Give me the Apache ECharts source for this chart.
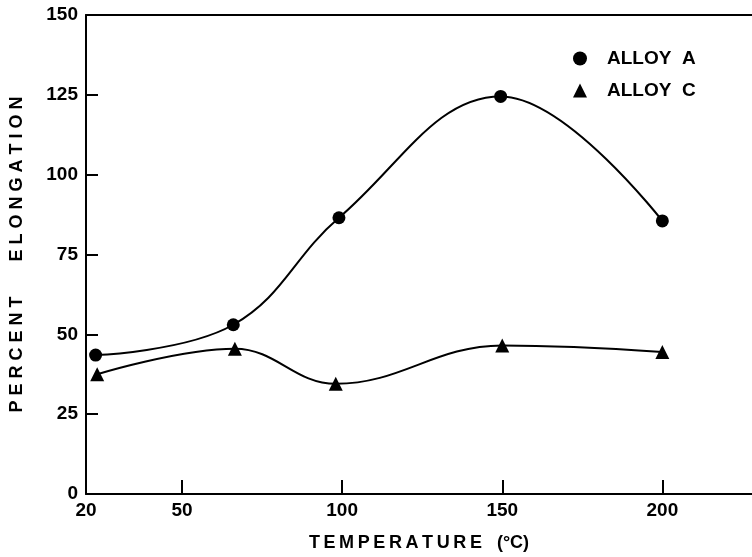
<!DOCTYPE html>
<html>
<head>
<meta charset="utf-8">
<title>Percent elongation vs temperature</title>
<script src="https://cdn.jsdelivr.net/npm/echarts@6/dist/echarts.min.js"></script>
<style>
	html,body{margin:0;padding:0;background:#fff;}
	#elongChart{width:752px;height:557px;}
</style>
</head>
<body>
<div id="elongChart"></div>
<script>
/*数据*/
var alloyATemp = [23, 66, 99, 149.5, 200];
var alloyAElong = [43.5, 53, 86.5, 124.5, 85.5];
var alloyCTemp = [23.5, 66.5, 98, 150, 200];
var alloyCElong = [37.5, 45.5, 34.5, 46.5, 44.5];
var xLabels = [20, 50, 100, 150, 200];
var xTicks = [50, 100, 150, 200];
var yLabels = [0, 25, 50, 75, 100, 125, 150];
var yTicks = [25, 50, 75, 100, 125];

function pairs(xs, ys){
	var out = [];
	for (var i = 0; i < xs.length; i++) {
		out.push([xs[i], ys[i]]);
	}
	return out;
}
function spaced(str, sep){
	return str.split('').join(sep);
}

var labelFont = {
	color : '#000',
	fontFamily : 'Liberation Sans',
	fontWeight : 'bold',
	fontSize : 18
};
var tickFont = {
	color : '#000',
	fontFamily : 'Liberation Sans',
	fontWeight : 'bold',
	fontSize : 19
};

var elongChart = echarts.init(document.getElementById('elongChart'));
var elongOption = {
	backgroundColor : '#fff',
	animation : false,
	grid : {
		left : 83,
		right : 0,
		top : 15,
		bottom : 59
	},
	legend : {
		orient : 'vertical',
		left : 568,
		top : 44,
		itemWidth : 14,
		itemHeight : 14,
		itemGap : 13,
		textStyle : {
			color : '#000',
			fontFamily : 'Liberation Sans',
			fontWeight : 'bold',
			fontSize : 19,
			padding : [0, 0, 0, 15]
		},
		data : [
			{ name : 'ALLOY  A', icon : 'circle' },
			{ name : 'ALLOY  C', icon : 'triangle' }
		]
	},
	xAxis : [ {
		type : 'value',
		min : 20,
		max : 228,
		name : spaced('TEMPERATURE', '\u2009') + '   (°C)',
		nameLocation : 'middle',
		nameGap : 40,
		nameTextStyle : labelFont,
		splitLine : { show : false },
		axisLine : { lineStyle : { color : '#000', width : 2 } },
		axisTick : {
			inside : true,
			length : 14,
			customValues : xTicks,
			lineStyle : { color : '#000', width : 2 }
		},
		axisLabel : echarts.util.extend({
			customValues : xLabels,
			margin : 7
		}, tickFont)
	}, {
		/*上边框*/
		type : 'value',
		position : 'top',
		min : 20,
		max : 228,
		splitLine : { show : false },
		axisLine : { show : true, lineStyle : { color : '#000', width : 2 } },
		axisTick : { show : false },
		axisLabel : { show : false }
	} ],
	yAxis : {
		type : 'value',
		min : 0,
		max : 150,
		name : spaced('PERCENT', ' ') + '       ' + spaced('ELONGATION', ' '),
		nameLocation : 'middle',
		nameGap : 60,
		nameTextStyle : labelFont,
		splitLine : { show : false },
		axisLine : { show : true, lineStyle : { color : '#000', width : 2 } },
		axisTick : {
			inside : true,
			length : 12,
			customValues : yTicks,
			lineStyle : { color : '#000', width : 2 }
		},
		axisLabel : echarts.util.extend({
			customValues : yLabels,
			margin : 8
		}, tickFont)
	},
	series : [ {
		name : 'ALLOY  A',
		type : 'line',
		smooth : 0.4,
		symbol : 'circle',
		symbolSize : 13,
		itemStyle : { color : '#000' },
		lineStyle : { color : '#000', width : 2 },
		data : pairs(alloyATemp, alloyAElong)
	}, {
		name : 'ALLOY  C',
		type : 'line',
		smooth : 0.4,
		symbol : 'triangle',
		symbolSize : 14,
		itemStyle : { color : '#000' },
		lineStyle : { color : '#000', width : 2 },
		data : pairs(alloyCTemp, alloyCElong)
	} ]
};
elongChart.setOption(elongOption);
</script>
</body>
</html>
